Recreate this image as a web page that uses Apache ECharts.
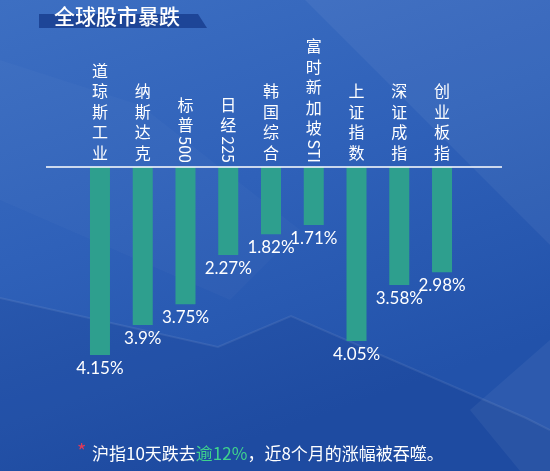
<!DOCTYPE html>
<html>
<head>
<meta charset="utf-8">
<script src="https://cdn.jsdelivr.net/npm/echarts@6/dist/echarts.min.js"></script>
<style>
html,body{margin:0;padding:0;background:#2a5cb5;}
#main{width:550px;height:471px;}
</style>
</head>
<body>
<div id="main"></div>
<script>
// Category names: CJK part (stacked vertically) and Latin part (rotated)
var categoryCJK = ['道琼斯工业', '纳斯达克', '标普', '日经', '韩国综合', '富时新加坡', '上证指数', '深证成指', '创业板指'];
var categoryLatin = ['', '', '500', '225', '', 'STI', '', '', ''];
// Drop labels shown in the chart (%)
var dropLabels = ['4.15%', '3.9%', '3.75%', '2.27%', '1.82%', '1.71%', '4.05%', '3.58%', '2.98%'];
// Bar depths as drawn in the picture (chart's own visual scale, not proportional to labels)
var barDepth = [4.7, 3.95, 3.43, 2.2, 1.68, 1.45, 4.35, 2.95, 2.63];

var title = '全球股市暴跌';
var footnote = '沪指10天跌去';
var footHighlight = '逾12%';
var footRest = '，近8个月的涨幅被吞噬。';

var categories = categoryCJK.map(function (c, i) { return c + categoryLatin[i]; });
var barData = barDepth.map(function (v) { return -v; });

var LABEL_FONT = '16px "Noto Sans CJK SC", "Noto Sans", sans-serif';
var measureCtx = document.createElement('canvas').getContext('2d');
function textWidth(t, font) { measureCtx.font = font; return measureCtx.measureText(t).width; }

var chart = echarts.init(document.getElementById('main'), null, {renderer: 'canvas'});

var option = {
  backgroundColor: {
    type: 'linear', x: 0, y: 0, x2: 0.3, y2: 1,
    colorStops: [
      {offset: 0, color: '#3d6fc2'},
      {offset: 0.5, color: '#2f61b9'},
      {offset: 1, color: '#2252aa'}
    ]
  },
  animation: false,
  grid: {left: 78.6, right: 86.6, top: 167, bottom: 104, containLabel: false},
  xAxis: {
    type: 'category', data: categories, boundaryGap: true,
    axisLine: {show: false}, axisTick: {show: false}, axisLabel: {show: false}, splitLine: {show: false}
  },
  yAxis: {
    type: 'value', min: -5, max: 0, show: false, splitLine: {show: false}
  },
  graphic: [
    // faint decorative shapes
    {type: 'polygon', silent: true, z: -10, shape: {points: [[305, 0], [550, 0], [550, 245]]}, style: {fill: 'rgba(255,255,255,0.05)'}},
    {type: 'polygon', silent: true, z: -10, shape: {points: [[0, 60], [140, 105], [300, 230], [230, 300], [0, 200]]}, style: {fill: 'rgba(255,255,255,0.025)'}},
    {type: 'polygon', silent: true, z: -10, shape: {points: [[0, 298], [218, 347], [291, 316], [526, 418], [550, 430], [550, 471], [0, 471]]}, style: {fill: 'rgba(0,20,90,0.10)'}},
    {type: 'polygon', silent: true, z: -10, shape: {points: [[470, 410], [550, 340], [550, 471], [520, 471]]}, style: {fill: 'rgba(255,255,255,0.05)'}},
    {type: 'polyline', silent: true, z: -10, shape: {points: [[0, 298], [218, 347], [291, 316], [526, 418], [550, 430]]}, style: {stroke: 'rgba(255,255,255,0.08)', lineWidth: 2, fill: null}},
    // title banner
    {type: 'polygon', z: 5, shape: {points: [[39, 14], [198, 14], [207, 28], [39, 28]]}, style: {fill: '#1d4597'}},
    {type: 'text', z: 6, x: 54, y: 16, style: {text: title, fill: '#ffffff', font: '500 21px "Noto Sans CJK SC", sans-serif', verticalAlign: 'middle', align: 'left'}},
    // baseline
    {type: 'line', z: 6, shape: {x1: 46, y1: 167, x2: 502, y2: 167}, style: {stroke: '#ffffff', lineWidth: 1.5}},
    // footnote
    {type: 'text', z: 6, x: 77, y: 451, style: {text: '*', fill: '#e23a58', font: '20px "Noto Sans CJK SC", sans-serif', verticalAlign: 'middle', align: 'left'}},
    {type: 'text', z: 6, x: 92, y: 454, style: {
      text: '{w|' + footnote + '}{g|' + footHighlight + '}{w|' + footRest + '}',
      verticalAlign: 'middle', align: 'left',
      rich: {
        w: {fill: '#ffffff', font: '17px "Noto Sans CJK SC", sans-serif'},
        g: {fill: '#3fd38d', font: '17px "Noto Sans CJK SC", sans-serif'}
      }
    }}
  ],
  series: [
    {
      type: 'bar',
      data: barData,
      barWidth: 20,
      itemStyle: {color: '#2e9f8e'},
      label: {
        show: true, position: 'bottom', distance: 5,
        color: '#ffffff', fontSize: 17, fontFamily: 'Lato, sans-serif',
        formatter: function (p) { return dropLabels[p.dataIndex]; }
      }
    },
    {
      type: 'custom',
      data: categories.map(function (c, i) { return [i, 0]; }),
      silent: true,
      z: 10,
      renderItem: function (params, api) {
        var idx = api.value(0);
        var pt = api.coord([idx, 0]);
        var cx = pt[0];
        var bottom = pt[1] - 4;
        var children = [];
        var latin = categoryLatin[idx];
        var cjkBottom = bottom;
        if (latin) {
          var w = textWidth(latin, LABEL_FONT);
          children.push({
            type: 'text', x: cx, y: bottom, rotation: -Math.PI / 2,
            style: {text: latin, fill: '#ffffff', font: LABEL_FONT, align: 'right', verticalAlign: 'middle'}
          });
          cjkBottom = bottom - w - 1;
        }
        children.push({
          type: 'text', x: cx, y: cjkBottom,
          style: {text: categoryCJK[idx].split('').join('\n'), fill: '#ffffff', font: LABEL_FONT, lineHeight: 20.5, align: 'center', verticalAlign: 'bottom'}
        });
        return {type: 'group', children: children};
      }
    }
  ]
};
chart.setOption(option);
</script>
</body>
</html>
